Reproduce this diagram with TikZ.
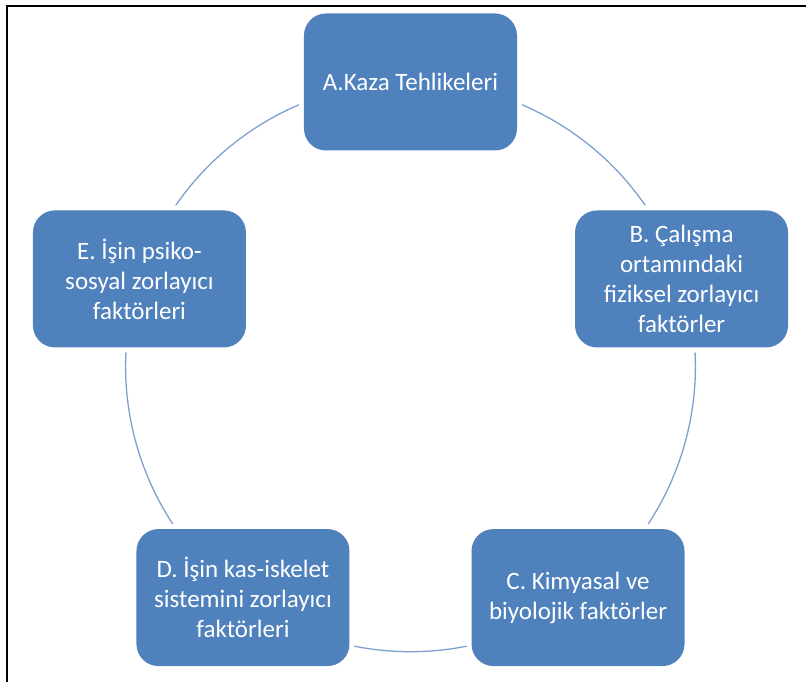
\documentclass[tikz,border=0pt]{standalone}
\usepackage{fontspec}
\setmainfont{Carlito}
\usetikzlibrary{backgrounds}
\definecolor{boxblue}{RGB}{79,129,189}
\definecolor{ringblue}{RGB}{126,160,207}
\tikzset{x=1pt,y=1pt,
  factor/.style={rectangle, rounded corners=22pt, fill=boxblue, text=white,
    minimum width=213pt, minimum height=137pt, align=center,
    font=\fontsize{25}{30}\selectfont,
    preaction={draw=white, line width=10pt}},
  ring/.style={draw=ringblue, line width=1.3pt, bend left=36, looseness=0.94}}

\begin{document}
\begin{tikzpicture}
\useasboundingbox (-410.5,-315) rectangle (395.5,367);
% frame
\draw[line width=2.2pt] (-403.5,-315) -- (-403.5,361) -- (395.5,361);
% the five factors, on a circle round the origin
\node[factor] (f1) at (90:285) {A.Kaza Tehlikeleri};
\node[factor] (f2) at (18:285) {B. Çalışma\\ortamındaki\\fiziksel zorlayıcı\\faktörler};
\node[factor] (f3) at (-54:285) {C. Kimyasal ve\\biyolojik faktörler};
\node[factor] (f4) at (-126:285) {D. İşin kas-iskelet\\sistemini zorlayıcı\\faktörleri};
\node[factor] (f5) at (162:285) {E. İşin psiko-\\sosyal zorlayıcı\\faktörleri};
\begin{scope}[on background layer]
\draw[ring] (f1.center) to (f2.center) to (f3.center) to (f4.center)
  to (f5.center) to (f1.center);
\end{scope}
\end{tikzpicture}
\end{document}
